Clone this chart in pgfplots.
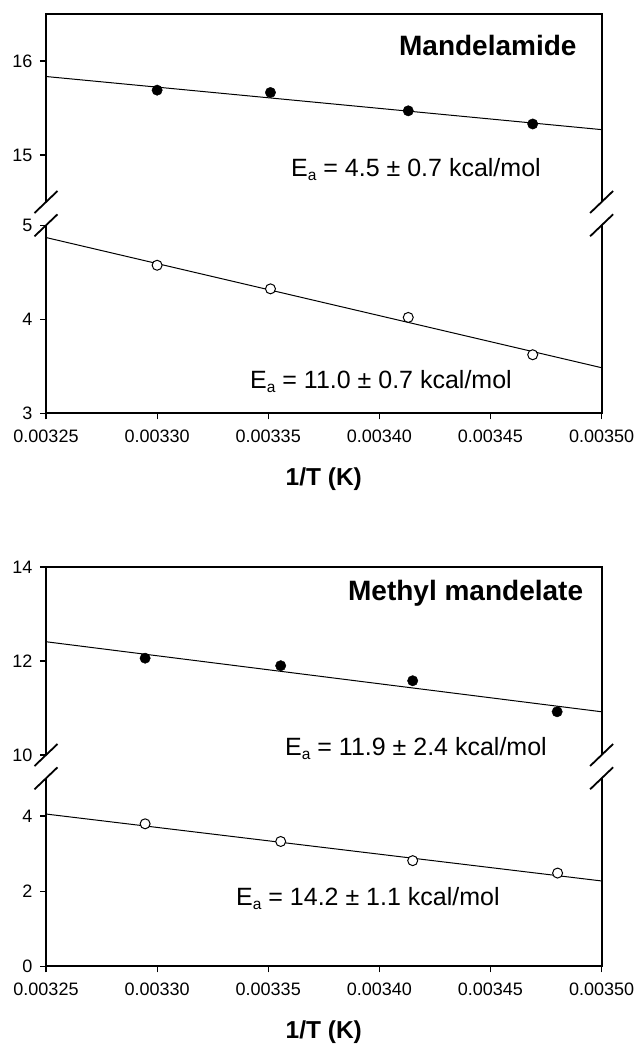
\documentclass[border=0pt]{standalone}
\usepackage{fontspec}
\setmainfont{Liberation Sans}
\usepackage{pgfplots}
\pgfplotsset{compat=1.18}
\newcommand\tfont{\fontsize{18}{21}\selectfont}
\newcommand\efont{\fontsize{25}{29}\selectfont}
\newcommand\sub[1]{\raisebox{-4pt}{\fontsize{15.5}{17}\selectfont #1}}
\pgfplotsset{
  sub/.style={scale only axis, width=555.6pt, height=188pt,
    xmin=0.00325, xmax=0.0035, anchor=south west,
    axis line style={draw=none}, tick align=outside, tick pos=left,
    major tick length=6pt, tick style={line width=1.2pt, black},
    clip=false, scaled x ticks=false, scaled y ticks=false,
    /pgf/number format/assume math mode=true,
    tick label style={font=\tfont},
    yticklabel style={font=\tfont, xshift=-4pt},
    xticklabel style={font=\tfont, yshift=-7pt,/pgf/number format/.cd, fixed, fixed zerofill, precision=5},
  },
  upper/.style={sub, xtick=\empty,
    execute at end axis={
      \draw[line width=2pt, line join=miter] (rel axis cs:0,0) -- (rel axis cs:0,1) -- (rel axis cs:1,1) -- (rel axis cs:1,0);
      \draw[line width=1.8pt] (rel axis cs:0,0) ++(-11.5pt,-11pt) -- ++(23pt,22pt);
      \draw[line width=1.8pt] (rel axis cs:1,0) ++(-11.5pt,-11pt) -- ++(23pt,22pt);
    }},
  lower/.style={sub, xtick={0.00325,0.0033,0.00335,0.0034,0.00345,0.0035},
    execute at end axis={
      \draw[line width=2pt, line join=miter] (rel axis cs:0,1) -- (rel axis cs:0,0) -- (rel axis cs:1,0) -- (rel axis cs:1,1);
      \draw[line width=1.8pt] (rel axis cs:0,1) ++(-11.5pt,-11pt) -- ++(23pt,22pt);
      \draw[line width=1.8pt] (rel axis cs:1,1) ++(-11.5pt,-11pt) -- ++(23pt,22pt);
    }},
  filled/.style={only marks, mark=*, mark size=5.2pt, black},
  open/.style={only marks, mark=*, mark size=5pt, mark options={fill=white, draw=black, line width=1pt}},
  fit/.style={black, line width=1pt, no marks},
}
\begin{document}
\begin{tikzpicture}
\path[use as bounding box] (0,0) rectangle (637pt,-1044pt);
% ---------- top panel ----------
\begin{axis}[upper, at={(46pt,-202pt)}, ymin=14.5, ymax=16.5, ytick={15,16}]
\addplot[fit] coordinates {(0.00325,15.835) (0.0035,15.27)};
\addplot[filled] coordinates {(0.00330,15.69) (0.003351,15.665) (0.003413,15.47) (0.003469,15.33)};
\end{axis}
\begin{axis}[lower, at={(46pt,-413.3pt)}, ymin=3, ymax=5, ytick={3,4,5}]
\addplot[fit] coordinates {(0.00325,4.87) (0.0035,3.485)};
\addplot[open] coordinates {(0.00330,4.575) (0.003351,4.324) (0.003413,4.02) (0.003469,3.623)};
\end{axis}
% ---------- bottom panel ----------
\begin{axis}[upper, at={(46pt,-755pt)}, ymin=10, ymax=14, ytick={10,12,14}]
\addplot[fit] coordinates {(0.00325,12.41) (0.0035,10.92)};
\addplot[filled] coordinates {(0.0032946,12.06) (0.0033556,11.90) (0.003415,11.58) (0.00348,10.92)};
\end{axis}
\begin{axis}[lower, at={(46pt,-966.3pt)}, ymin=0, ymax=5, ytick={0,2,4}]
\addplot[fit] coordinates {(0.00325,4.05) (0.0035,2.27)};
\addplot[open] coordinates {(0.0032946,3.79) (0.0033556,3.32) (0.003415,2.81) (0.0034802,2.48)};
\end{axis}
% ---------- texts ----------
\node[anchor=base east, inner sep=0pt, font=\fontsize{28}{32}\selectfont\bfseries] at (576.7pt,-55pt) {Mandelamide};
\node[anchor=base west, inner sep=0pt, font=\efont] at (291pt,-176.7pt) {E\sub{a} = 4.5 ± 0.7 kcal/mol};
\node[anchor=base west, inner sep=0pt, font=\efont] at (250pt,-388.3pt) {E\sub{a} = 11.0 ± 0.7 kcal/mol};
\node[anchor=base, inner sep=0pt, font=\fontsize{24.5}{28}\selectfont\bfseries] at (323.8pt,-485pt) {1/T (K)};
\node[anchor=base east, inner sep=0pt, font=\fontsize{28}{32}\selectfont\bfseries] at (583.3pt,-600pt) {Methyl mandelate};
\node[anchor=base west, inner sep=0pt, font=\efont] at (285pt,-755pt) {E\sub{a} = 11.9 ± 2.4 kcal/mol};
\node[anchor=base west, inner sep=0pt, font=\efont] at (236pt,-905.7pt) {E\sub{a} = 14.2 ± 1.1 kcal/mol};
\node[anchor=base, inner sep=0pt, font=\fontsize{24.5}{28}\selectfont\bfseries] at (323.8pt,-1038pt) {1/T (K)};
\end{tikzpicture}
\end{document}
